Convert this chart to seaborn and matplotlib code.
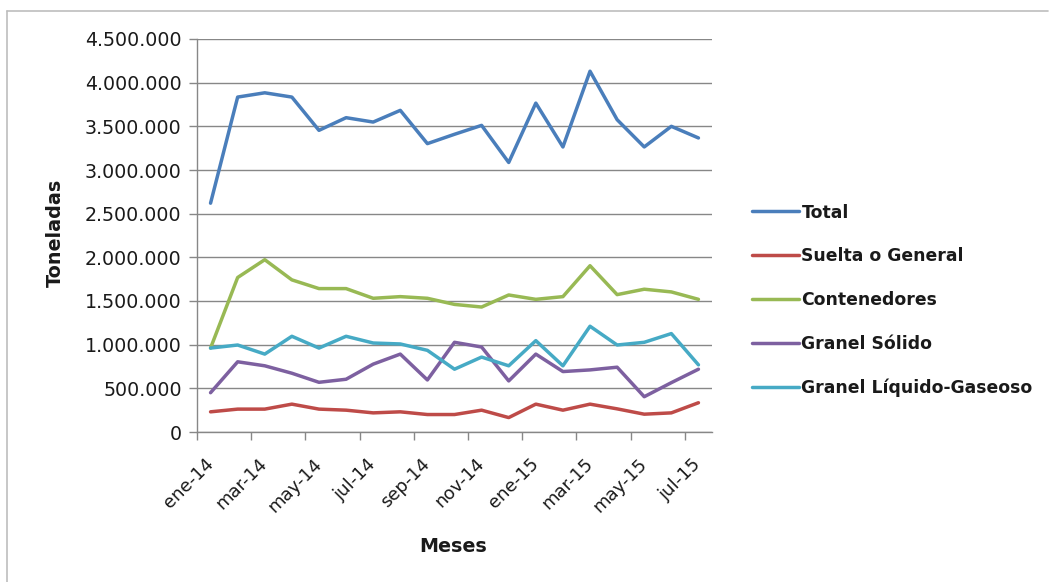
import matplotlib
matplotlib.use("Agg")
import matplotlib.pyplot as plt
import matplotlib.ticker as mticker
from matplotlib.lines import Line2D
import numpy as np
import pandas as pd
import seaborn as sns

# Monthly port throughput (tonnes) by cargo type, Jan-2014 .. Jul-2015
meses = ["ene-14", "feb-14", "mar-14", "abr-14", "may-14", "jun-14", "jul-14",
         "ago-14", "sep-14", "oct-14", "nov-14", "dic-14", "ene-15", "feb-15",
         "mar-15", "abr-15", "may-15", "jun-15", "jul-15"]

total = [2620000, 3835000, 3884000, 3835000, 3454000, 3599000, 3549000,
         3683000, 3302000, 3409000, 3511000, 3086000, 3766000, 3264000,
         4131000, 3576000, 3264000, 3500000, 3367000]
suelta = [231000, 262000, 262000, 319000, 262000, 250000, 219000,
          231000, 200000, 200000, 250000, 165000, 319000, 250000,
          319000, 265000, 204000, 219000, 335000]
contenedores = [961000, 1769000, 1973000, 1742000, 1642000, 1642000, 1531000,
                1550000, 1531000, 1461000, 1431000, 1569000, 1519000, 1550000,
                1904000, 1573000, 1635000, 1604000, 1519000]
granel_solido = [450000, 804000, 758000, 673000, 569000, 604000, 777000,
                 892000, 596000, 1027000, 973000, 585000, 892000, 692000,
                 711000, 742000, 404000, 565000, 719000]
granel_liquido = [961000, 996000, 892000, 1096000, 961000, 1096000, 1019000,
                  1008000, 935000, 719000, 858000, 758000, 1046000, 758000,
                  1211000, 996000, 1027000, 1127000, 769000]

series_names = ["Total", "Suelta o General", "Contenedores",
                "Granel Sólido", "Granel Líquido-Gaseoso"]
series_values = [total, suelta, contenedores, granel_solido, granel_liquido]
colors = ["#4A7EBB", "#BE4B48", "#98B954", "#7D60A0", "#46AAC5"]

frames = []
for name, vals in zip(series_names, series_values):
    frames.append(pd.DataFrame({"idx": np.arange(len(meses)), "valor": vals,
                                "serie": name}))
df = pd.concat(frames, ignore_index=True)

sns.set_style("white")
plt.rcParams["font.family"] = ["DejaVu Sans"]

W, H = 1049, 582
fig = plt.figure(figsize=(W / 100, H / 100), dpi=100)
ax = fig.add_axes([197 / W, 1 - 432 / H, (712 - 197) / W, (432 - 39) / H])

sns.lineplot(data=df, x="idx", y="valor", hue="serie", hue_order=series_names,
             palette=colors, linewidth=2.5, legend=False, ax=ax, zorder=3)

grid_c = "#878787"
text_c = "#1a1a1a"
ax.set_xlim(-0.5, len(meses) - 0.5)
ax.set_ylim(0, 4500000)
ax.yaxis.set_major_locator(mticker.MultipleLocator(500000))
ax.yaxis.set_major_formatter(mticker.FuncFormatter(
    lambda v, p: f"{int(v):,}".replace(",", ".")))
ax.grid(axis="y", color=grid_c, linewidth=1.0, zorder=0)
ax.grid(axis="x", visible=False)

# category labels every second month, tick marks on category boundaries
ax.set_xticks(np.arange(0, len(meses), 2))
ax.set_xticklabels(meses[::2], rotation=45, ha="right", va="center",
                   rotation_mode="anchor")
ax.set_xticks(np.arange(-0.5, len(meses), 2), minor=True)
ax.tick_params(axis="x", which="major", length=0, pad=21, labelsize=13,
               labelcolor=text_c)
ax.tick_params(axis="x", which="minor", length=6, color=grid_c, width=1,
               direction="out")
ax.tick_params(axis="y", length=6, color=grid_c, width=1, direction="out",
               labelsize=13.7, labelcolor=text_c, pad=5)
ax.yaxis.set_ticks_position("left")
ax.xaxis.set_ticks_position("bottom")

for s in ["top", "right"]:
    ax.spines[s].set_visible(False)
for s in ["left", "bottom"]:
    ax.spines[s].set_color(grid_c)
    ax.spines[s].set_linewidth(1.0)

ax.set_xlabel("Meses", fontsize=13.8, fontweight="bold", color=text_c)
ax.set_ylabel("Toneladas", fontsize=13.8, fontweight="bold", color=text_c)
ax.xaxis.set_label_coords((453 - 197) / (712 - 197), -(546 - 432) / (432 - 39))
ax.yaxis.set_label_coords(-(197 - 55) / (712 - 197), (432 - 233) / (432 - 39))
ax.xaxis.label.set_va("center")
ax.yaxis.label.set_va("center")

handles = [Line2D([0], [0], color=c, linewidth=2.5) for c in colors]
leg = fig.legend(handles, series_names, loc="upper left",
                 bbox_to_anchor=(736 / W, 1 - 188 / H), frameon=False,
                 handlelength=2.75, handletextpad=0.15, labelspacing=1.5,
                 prop={"weight": "bold", "size": 12.4})
for t in leg.get_texts():
    t.set_color(text_c)

# chart frame edges
fig.add_artist(Line2D([7 / W, 7 / W], [0, 1 - 11 / H],
                      transform=fig.transFigure, color="#bdbdbd", linewidth=1.2))
fig.add_artist(Line2D([7 / W, 1048 / W], [1 - 11 / H, 1 - 11 / H],
                      transform=fig.transFigure, color="#bdbdbd", linewidth=1.2))

fig.savefig("out.png", dpi=100, facecolor="white")
